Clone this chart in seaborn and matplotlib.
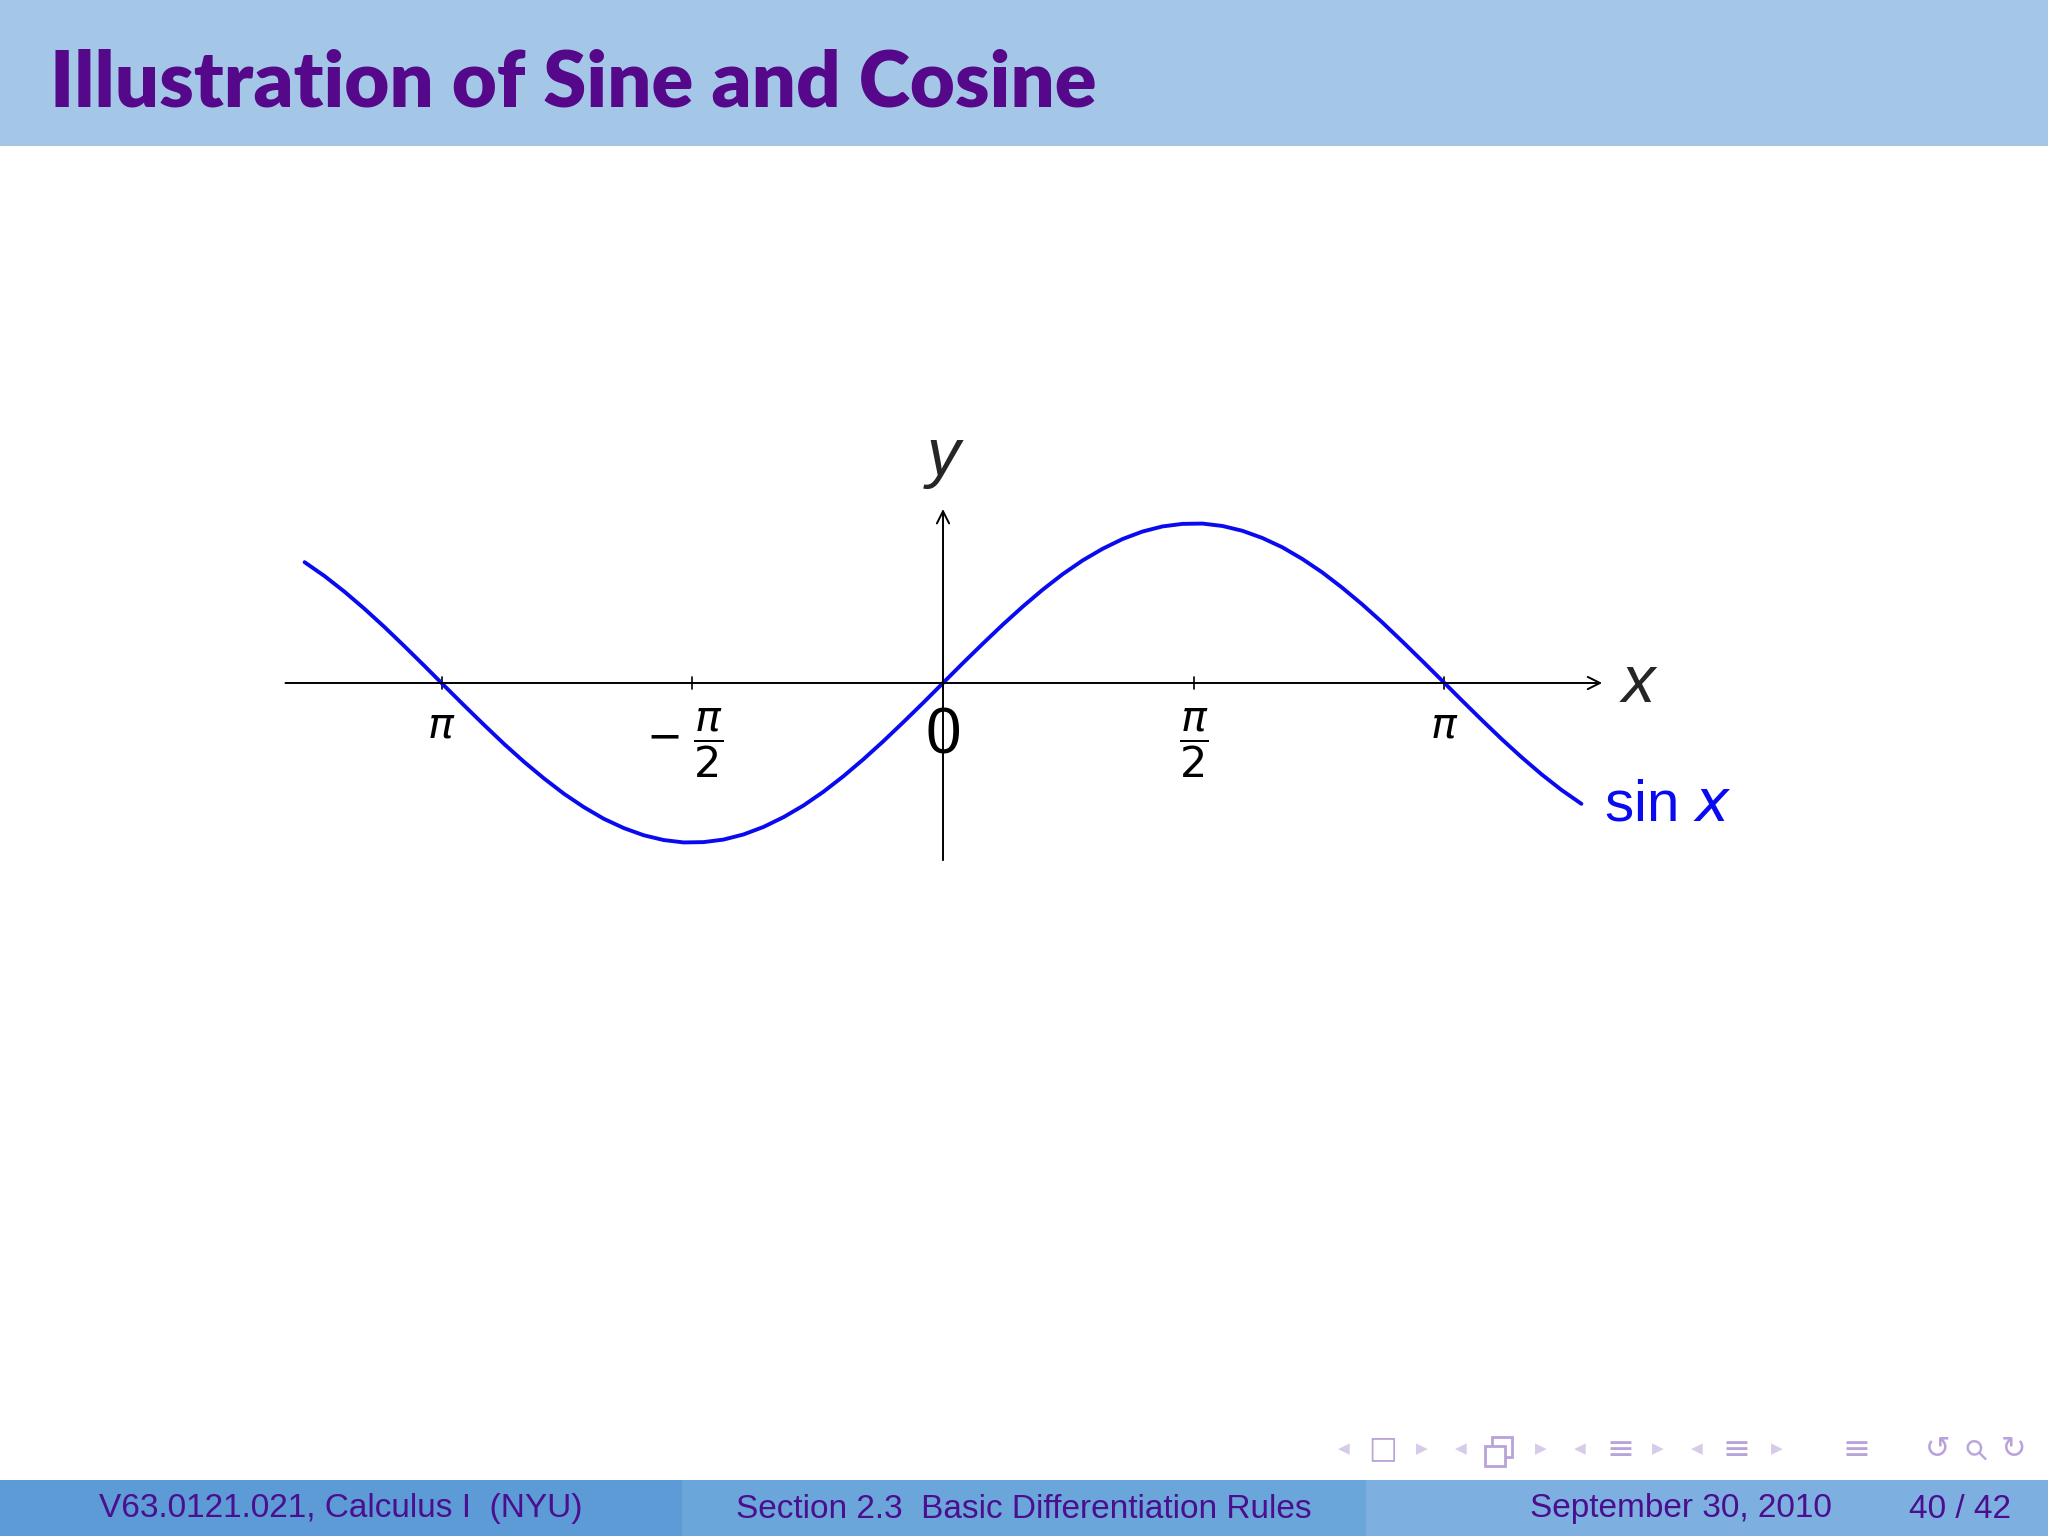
import numpy as np
import pandas as pd
import matplotlib
matplotlib.use("Agg")
import matplotlib.pyplot as plt
from matplotlib.patches import Rectangle
import seaborn as sns

sns.set_theme(style="white")
plt.rcParams["font.family"] = ["Liberation Sans", "DejaVu Sans"]
plt.rcParams["mathtext.fontset"] = "dejavusans"

# ------------------------------------------------------------
# dados lidos do slide
# ------------------------------------------------------------
x_vals = [-4.000, -3.875, -3.750, -3.625, -3.500, -3.375, -3.250, -3.125,
          -3.000, -2.875, -2.750, -2.625, -2.500, -2.375, -2.250, -2.125,
          -2.000, -1.875, -1.750, -1.625, -1.500, -1.375, -1.250, -1.125,
          -1.000, -0.875, -0.750, -0.625, -0.500, -0.375, -0.250, -0.125,
          0.000,
          0.125, 0.250, 0.375, 0.500, 0.625, 0.750, 0.875, 1.000,
          1.125, 1.250, 1.375, 1.500, 1.625, 1.750, 1.875, 2.000,
          2.125, 2.250, 2.375, 2.500, 2.625, 2.750, 2.875, 3.000,
          3.125, 3.250, 3.375, 3.500, 3.625, 3.750, 3.875, 4.000]
sin_vals = [0.757, 0.670, 0.572, 0.465, 0.351, 0.231, 0.108, -0.017,
            -0.141, -0.263, -0.382, -0.494, -0.598, -0.694, -0.778, -0.851,
            -0.909, -0.954, -0.984, -0.999, -0.997, -0.981, -0.949, -0.902,
            -0.841, -0.768, -0.682, -0.585, -0.479, -0.366, -0.247, -0.125,
            0.000,
            0.125, 0.247, 0.366, 0.479, 0.585, 0.682, 0.768, 0.841,
            0.902, 0.949, 0.981, 0.997, 0.999, 0.984, 0.954, 0.909,
            0.851, 0.778, 0.694, 0.598, 0.494, 0.382, 0.263, 0.141,
            0.017, -0.108, -0.231, -0.351, -0.465, -0.572, -0.670, -0.757]

tick_pos = [-np.pi, -np.pi / 2, 0, np.pi / 2, np.pi]
tick_labels = [r"$\pi$", r"$-\;\dfrac{\pi}{2}$", "0", r"$\dfrac{\pi}{2}$", r"$\pi$"]

title = "Illustration of Sine and Cosine"
footer_left = "V63.0121.021, Calculus I  (NYU)"
footer_mid = "Section 2.3  Basic Differentiation Rules"
footer_date = "September 30, 2010"
footer_page = "40 / 42"

PURPLE = "#55088A"
BLUE = "#0A0AF0"

W, H = 2048, 1536


def fx(px):
    return px / W


def fy(py):
    return 1 - py / H


fig = plt.figure(figsize=(20.48, 15.36), dpi=100)
fig.patch.set_facecolor("white")

# eixo cobrindo a figura inteira, 1 unidade = ~159.6 px
ax = fig.add_axes([0, 0, 1, 1])
u = 159.6
ox, oy = 943, 683
ax.set_xlim(-ox / u, (W - ox) / u)
ax.set_ylim(-(H - oy) / u, oy / u)
ax.axis("off")
ax.patch.set_visible(False)

# eixos com seta
ax.annotate("", xy=(4.13, 0), xytext=(-4.12, 0),
            arrowprops=dict(arrowstyle="->", lw=1.4, color="black",
                            shrinkA=0, shrinkB=0, mutation_scale=22))
ax.annotate("", xy=(0, 1.09), xytext=(0, -1.11),
            arrowprops=dict(arrowstyle="->", lw=1.4, color="black",
                            shrinkA=0, shrinkB=0, mutation_scale=22))

for t in tick_pos:
    ax.plot([t, t], [-0.035, 0.035], color="black", lw=1.2)

for t, lab in zip(tick_pos, tick_labels):
    size = 46 if lab == "0" else 31
    dx = -0.05 if "-" in lab else 0
    ax.text(t + dx, -0.15, lab, ha="center", va="top", fontsize=size, color="black")

ax.text(0, 1.41, "y", ha="center", va="center", fontsize=48, style="italic")
ax.text(4.25, -0.01, "x", ha="left", va="center", fontsize=48, style="italic")

df = pd.DataFrame({"x": x_vals, "y": sin_vals})
sns.lineplot(data=df, x="x", y="y", ax=ax, color=BLUE, lw=2.8, sort=False)
ax.set_xlabel("")
ax.set_ylabel("")

ax.text(4.14, -0.77, r"sin $\mathit{x}$", ha="left", va="center",
        fontsize=42, color=BLUE)

# barra do título
fig.patches.append(Rectangle((0, fy(146)), 1, 146 / H, transform=fig.transFigure,
                             facecolor="#A4C6E7", edgecolor="none", zorder=0))
fig.text(fx(50), fy(84), title, ha="left", va="center", fontsize=56,
         fontweight="heavy", family="Lato", color=PURPLE)

# rodapé
for x0, x1, c in [(0, 682, "#5C9BD5"), (682, 1366, "#6BA6DA"), (1366, W, "#7DB0E0")]:
    fig.patches.append(Rectangle((fx(x0), 0), fx(x1 - x0), (H - 1480) / H,
                                 transform=fig.transFigure, facecolor=c,
                                 edgecolor="none", zorder=0))
fig.text(fx(341), fy(1509), footer_left, ha="center", va="center", fontsize=24, color="#4B0E8E")
fig.text(fx(1024), fy(1509), footer_mid, ha="center", va="center", fontsize=24, color="#4B0E8E")
fig.text(fx(1832), fy(1509), footer_date, ha="right", va="center", fontsize=24, color="#4B0E8E")
fig.text(fx(2011), fy(1509), footer_page, ha="right", va="center", fontsize=24, color="#4B0E8E")

# símbolos de navegação
LIGHT = "#D6CBE8"
MID = "#B9A2D9"
ny = fy(1449)
arrows_l = [1344, 1461, 1580, 1697]
arrows_r = [1422, 1541, 1658, 1777]
for x in arrows_l:
    fig.text(fx(x), ny, "◀", ha="center", va="center", fontsize=11,
             family="DejaVu Sans", color=LIGHT)
for x in arrows_r:
    fig.text(fx(x), ny, "▶", ha="center", va="center", fontsize=11,
             family="DejaVu Sans", color=LIGHT)
fig.text(fx(1383), ny, "□", ha="center", va="center", fontsize=22,
         family="DejaVu Sans", color=MID)
# ícone de quadros (dois quadrados sobrepostos)
for (x0, y0) in [(1492, 1437), (1485, 1446)]:
    fig.patches.append(Rectangle((fx(x0), fy(y0 + 20)), 20 / W, 20 / H,
                                 transform=fig.transFigure, facecolor="white",
                                 edgecolor=MID, lw=2.0, zorder=2))
for x in [1621, 1736, 1857]:
    fig.text(fx(x), ny, "≡", ha="center", va="center", fontsize=24,
             family="DejaVu Sans", color=MID)
fig.text(fx(1938), ny, "↺", ha="center", va="center", fontsize=22,
         family="DejaVu Sans", color=MID)
fig.text(fx(1977), ny, "⚲", ha="center", va="center", fontsize=20,
         family="DejaVu Sans", color=MID, rotation=45)
fig.text(fx(2013), ny, "↻", ha="center", va="center", fontsize=22,
         family="DejaVu Sans", color=MID)

fig.savefig("out.png", dpi=100)
